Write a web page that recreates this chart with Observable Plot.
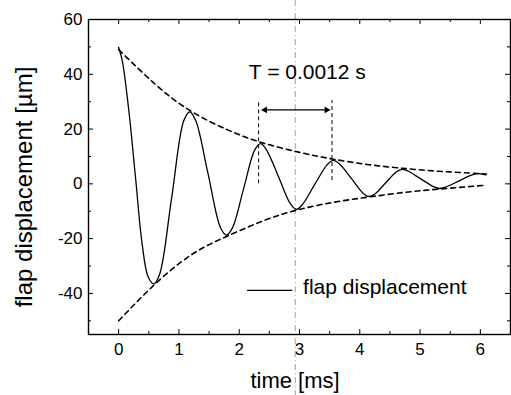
<!DOCTYPE html>
<html>
<head>
<meta charset="utf-8">
<script src="https://cdn.jsdelivr.net/npm/d3@7"></script>
<script src="https://cdn.jsdelivr.net/npm/@observablehq/plot@0.6"></script>
<style>
  html, body { margin: 0; padding: 0; background: white; }
</style>
</head>
<body>
<div id="chart"></div>
<script>
// ---- data (time in ms, displacement in µm) ----
const time = [0, 0.06, 0.17, 0.28, 0.39, 0.49, 0.585, 0.68, 0.88, 1.08, 1.18, 1.28, 1.48, 1.69, 1.79, 1.89, 2.07, 2.26, 2.355, 2.45, 2.65, 2.85, 2.95, 3.05, 3.25, 3.46, 3.56, 3.66, 3.86, 4.05, 4.15, 4.25, 4.43, 4.61, 4.70, 4.80, 5.01, 5.22, 5.32, 5.42, 5.64, 5.85, 5.95, 6.09];
const displacement = [49.8, 45, 26.5, 2.3, -22, -34, -36.5, -33, -5, 23, 26.3, 23, 4, -16, -18.7, -16, -2, 12.5, 14.7, 12.5, 2.7, -7.3, -9.3, -7.5, -0.3, 7, 8.6, 7.3, 2, -3.3, -4.6, -3.7, 0.4, 4.4, 5.3, 4.7, 1.8, -1.0, -1.7, -1.2, 1.0, 3.2, 3.7, 3.3];

const upperTime = [0, 0.6, 1.18, 1.8, 2.355, 3.0, 3.56, 4.15, 4.7, 5.3, 5.95, 6.1];
const upperEnv  = [49, 36.5, 26.8, 19.8, 15.2, 11.5, 9.0, 7.0, 5.7, 4.6, 3.8, 3.6];
const lowerTime = [0, 0.585, 1.2, 1.79, 2.4, 2.95, 3.55, 4.15, 4.75, 5.32, 6.09];
const lowerEnv  = [-50, -37, -26, -19.2, -13.5, -9.6, -6.8, -4.8, -3.1, -1.9, -0.5];

// period markers
const periodStart = 2.322, periodEnd = 3.539;
const markerTop = 30.4, markerBottomLeft = 0, markerBottomRight = 1.2;
const arrowY = 27, arrowFrom = 2.378, arrowTo = 3.499;
const periodLabel = "T = 0.0012 s";
const labelPos = {t: 3.13, v: 38.1};

// legend
const legendLabel = "flap displacement";
const legendLine = {t1: 2.13, t2: 2.88, v: -38.9};
const legendText = {t: 3.06, v: -40.2};

// scan fold line
const foldX = 2.93;

// axes
const xMajor = [0, 1, 2, 3, 4, 5, 6];
const xMinor = [-0.5, 0.5, 1.5, 2.5, 3.5, 4.5, 5.5, 6.5];
const yMajor = [-40, -20, 0, 20, 40, 60];
const yMinor = [-50, -30, -10, 10, 30, 50];

const curve = time.map((t, i) => ({t, v: displacement[i]}));
const upper = upperTime.map((t, i) => ({t, v: upperEnv[i]}));
const lower = lowerTime.map((t, i) => ({t, v: lowerEnv[i]}));

const W = 511, H = 395, ML = 88, MR = 1, MT = 19, MB = 61;
const FW = W - ML - MR, FH = H - MT - MB;

const svg = Plot.plot({
  width: W, height: H,
  marginLeft: ML, marginRight: MR, marginTop: MT, marginBottom: MB,
  style: {fontFamily: "'Liberation Sans', Arial, sans-serif", fontSize: "17px", background: "white", color: "black"},
  x: {domain: [-0.5, 6.5], ticks: xMajor, tickSize: 0, tickPadding: 8, label: null, tickFormat: d => String(d)},
  y: {domain: [-55, 60], ticks: yMajor, tickSize: 0, tickPadding: 6, label: null, tickFormat: d => String(d)},
  marks: [
    // scan fold artifact
    Plot.ruleX([foldX], {y1: 66.9, y2: -77.3, stroke: "#888", strokeWidth: 0.8, strokeDasharray: "6,3,1,3"}),
    // envelopes
    Plot.line(upper, {x: "t", y: "v", curve: "natural", stroke: "black", strokeWidth: 1.6, strokeDasharray: "5,4"}),
    Plot.line(lower, {x: "t", y: "v", curve: "natural", stroke: "black", strokeWidth: 1.6, strokeDasharray: "5,4"}),
    // signal
    Plot.line(curve, {x: "t", y: "v", curve: "catmull-rom", stroke: "black", strokeWidth: 1.3}),
    // period markers
    Plot.ruleX([periodStart], {y1: markerBottomLeft, y2: markerTop, stroke: "black", strokeWidth: 1, strokeDasharray: "4,3"}),
    Plot.ruleX([periodEnd], {y1: markerBottomRight, y2: markerTop, stroke: "black", strokeWidth: 1, strokeDasharray: "4,3"}),
    Plot.link([0], {x1: arrowFrom, x2: arrowTo, y1: arrowY, y2: arrowY, stroke: "black", strokeWidth: 1.4}),
    Plot.dot([0], {x: arrowFrom, y: arrowY, symbol: "triangle2", rotate: -90, r: 3.2, fill: "black", dx: 3}),
    Plot.dot([0], {x: arrowTo, y: arrowY, symbol: "triangle2", rotate: 90, r: 3.2, fill: "black", dx: -3}),
    Plot.text([periodLabel], {x: labelPos.t, y: labelPos.v, text: d => d, fontSize: 21, lineAnchor: "bottom", textAnchor: "middle", fill: "black"}),
    // legend
    Plot.link([0], {x1: legendLine.t1, x2: legendLine.t2, y1: legendLine.v, y2: legendLine.v, stroke: "black", strokeWidth: 1.3}),
    Plot.text([legendLabel], {x: legendText.t, y: legendText.v, text: d => d, fontSize: 21, lineAnchor: "bottom", textAnchor: "start", fill: "black"}),
    // inward ticks: left, right, bottom, top
    Plot.tickY(yMajor, {y: d => d, insetRight: FW - 5, stroke: "black", strokeWidth: 1}),
    Plot.tickY(yMinor, {y: d => d, insetRight: FW - 3, stroke: "black", strokeWidth: 1}),
    Plot.tickY(yMajor, {y: d => d, insetLeft: FW - 5, stroke: "black", strokeWidth: 1}),
    Plot.tickY(yMinor, {y: d => d, insetLeft: FW - 3, stroke: "black", strokeWidth: 1}),
    Plot.tickX(xMajor, {x: d => d, insetTop: FH - 5, stroke: "black", strokeWidth: 1}),
    Plot.tickX(xMinor, {x: d => d, insetTop: FH - 3, stroke: "black", strokeWidth: 1}),
    Plot.tickX(xMajor, {x: d => d, insetBottom: FH - 5, stroke: "black", strokeWidth: 1}),
    Plot.tickX(xMinor, {x: d => d, insetBottom: FH - 3, stroke: "black", strokeWidth: 1}),
    Plot.frame({stroke: "black", strokeWidth: 1.4})
  ]
});

const s = d3.select(svg);
s.append("text")
  .attr("transform", "translate(32,187) rotate(-90)")
  .attr("text-anchor", "middle")
  .attr("font-size", 24)
  .attr("fill", "black")
  .text("flap displacement [µm]");
s.append("text")
  .attr("x", 295).attr("y", 388)
  .attr("text-anchor", "middle")
  .attr("font-size", 22)
  .attr("fill", "black")
  .text("time [ms]");

document.getElementById("chart").appendChild(svg);
</script>
</body>
</html>
